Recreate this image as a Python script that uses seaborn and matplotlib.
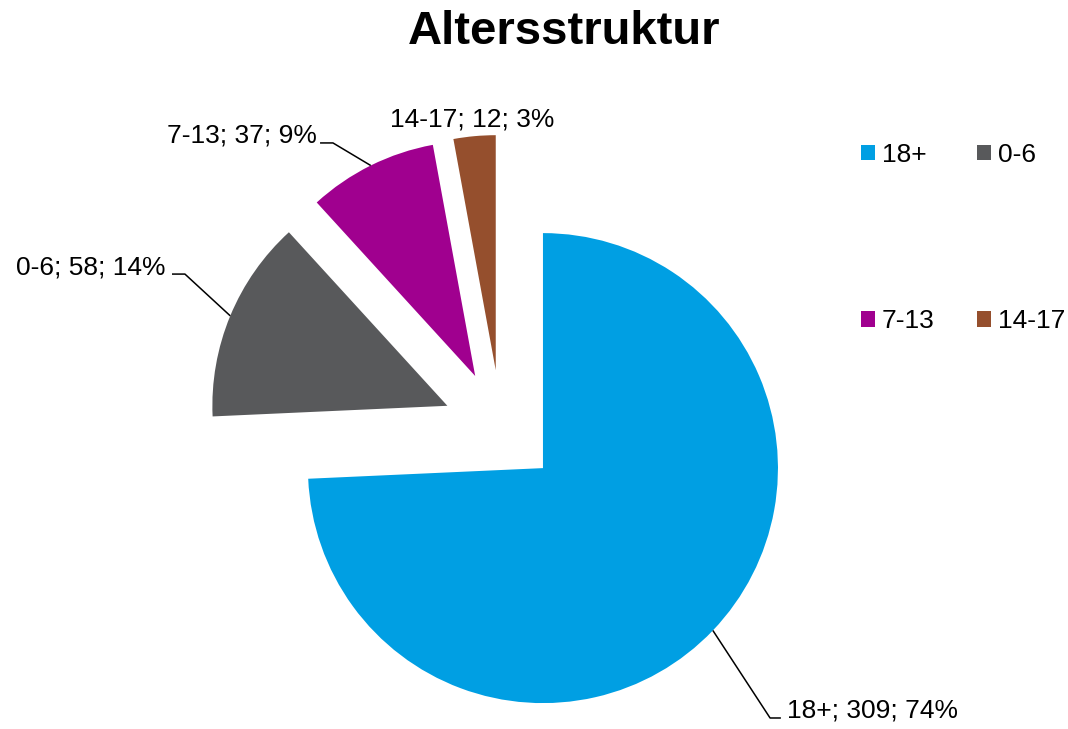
import numpy as np
import seaborn as sns
import matplotlib.pyplot as plt
from matplotlib.patches import Patch

# Daten
groups = ['18+', '0-6', '7-13', '14-17']
counts = [309, 58, 37, 12]
colors = ['#009FE3', '#58595B', '#A0008F', '#954F2D']

sns.set_theme(style='white')
plt.rcParams['font.family'] = ['Liberation Sans', 'DejaVu Sans']
plt.rcParams['text.color'] = 'black'

fig = plt.figure(figsize=(10.68, 7.29), dpi=100)
ax = fig.add_axes([0, 0, 1, 1])

pal = sns.color_palette(colors)
expl = 0.247
wedges, _ = ax.pie(counts, colors=pal, startangle=90, counterclock=False,
                   explode=[expl] * len(counts), radius=1,
                   wedgeprops=dict(linewidth=0))

# Beschriftungen: Gruppe; Anzahl; Prozent
total = sum(counts)
pct = [round(c / total * 100) for c in counts]
texts = [f'{g}; {c}; {p}%' for g, c, p in zip(groups, counts, pct)]

# Ankerpunkte auf dem Bogen jedes Segments
anchors = []
for w in wedges:
    tm = np.deg2rad((w.theta1 + w.theta2) / 2)
    cx, cy = w.center
    anchors.append((cx + np.cos(tm), cy + np.sin(tm)))

# (Knick x, Knick y, Ende x, Text x, Ausrichtung)
label_pos = [
    (1.145, -1.234, 1.191, 1.217, 'left'),
    (-1.345, 0.655, -1.400, -1.426, 'right'),
    (-0.715, 1.213, -0.770, -0.783, 'right'),
]
for i, (ex, ey, hx, tx, ha) in enumerate(label_pos):
    axx, axy = anchors[i]
    ax.plot([axx, ex, hx], [axy, ey, ey], color='black', lw=1.1,
            solid_capstyle='butt')
    ax.text(tx, ey, texts[i], ha=ha, va='baseline', fontsize=19,
            color='black')
ax.text(-0.123, 1.281, texts[3], ha='center', va='baseline', fontsize=19,
        color='black')

ax.set_xlim(-501 / 235, (1068 - 501) / 235)
ax.set_ylim((428 - 729) / 235, 428 / 235)
ax.set_aspect('auto')
ax.axis('off')

fig.text(564 / 1068, 1 - 32 / 729, 'Altersstruktur', ha='center',
         va='center', fontsize=34, fontweight='bold', color='black')

# Legende: zwei Spalten, Reihenfolge zeilenweise
handles = [Patch(facecolor=c, edgecolor='none') for c in pal]
order = [0, 2, 1, 3]
leg = fig.legend([handles[i] for i in order], [groups[i] for i in order],
                 ncol=2, loc='upper left',
                 bbox_to_anchor=(861 / 1068, 1 - 143 / 729),
                 frameon=False, fontsize=19, borderpad=0, borderaxespad=0,
                 handlelength=0.53, handleheight=0.53, handletextpad=0.25,
                 columnspacing=1.62, labelspacing=5.4)
for t in leg.get_texts():
    t.set_color('black')

fig.savefig('out.png', dpi=100)
